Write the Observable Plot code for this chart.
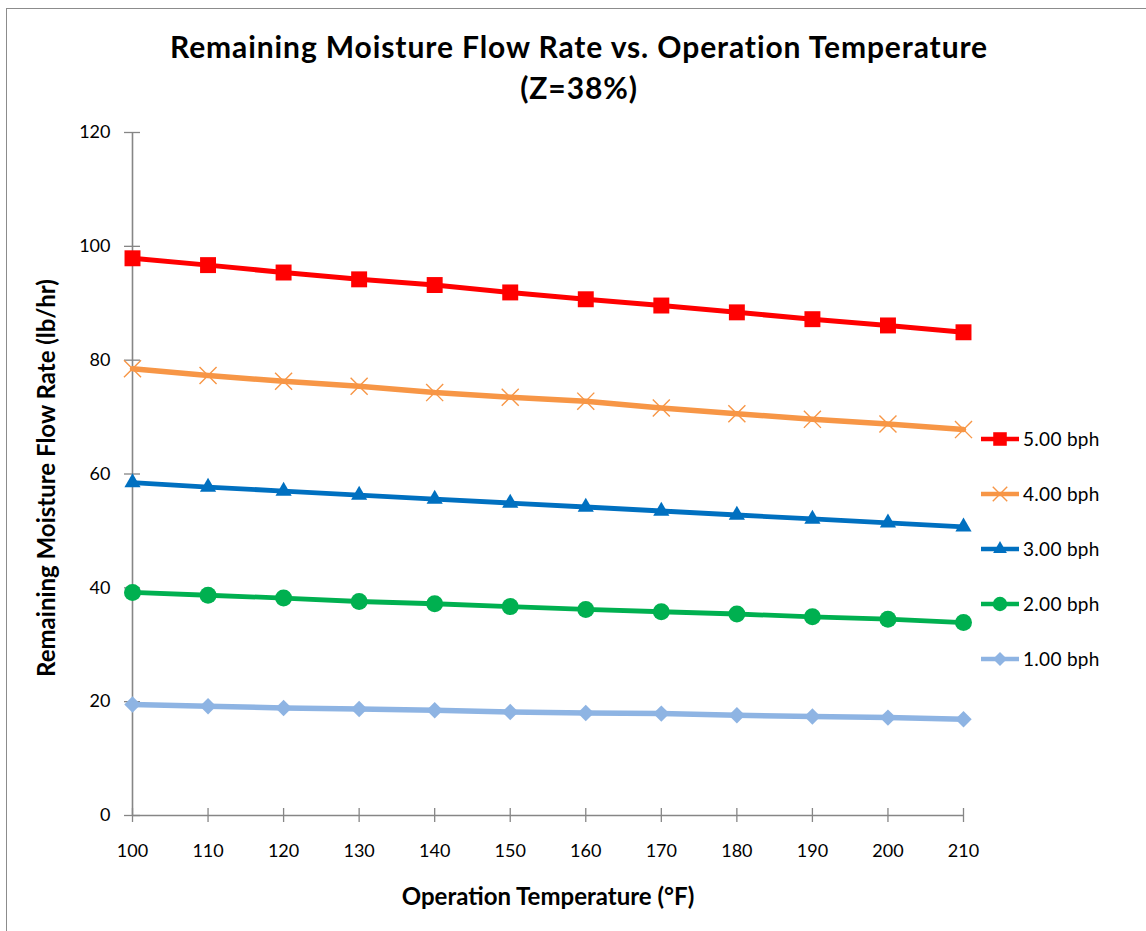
<!DOCTYPE html>
<html>
<head>
<meta charset="utf-8">
<script src="https://cdn.jsdelivr.net/npm/d3@7"></script>
<script src="https://cdn.jsdelivr.net/npm/@observablehq/plot@0.6"></script>
<style>
  html, body { margin: 0; padding: 0; background: #fff; }
  body { width: 1146px; height: 931px; position: relative; overflow: hidden; font-family: Lato, "Open Sans", sans-serif; }
  #title { height: 112px; box-sizing: border-box; padding-top: 26px; padding-left: 12px; text-align: center;
           font-size: 30px; letter-spacing: 0.9px; font-weight: bold; line-height: 41px; color: #000; }
  #frame { position: absolute; left: 6px; top: 8px; width: 1200px; height: 1000px;
           border-left: 1.5px solid #8c8c8c; border-top: 1.5px solid #8c8c8c; pointer-events: none; }
  #legend { position: absolute; left: 975px; top: 420px; }
  #chart svg text.axis-title { letter-spacing: 0.4px; }
</style>
</head>
<body>
<div id="title">Remaining Moisture Flow Rate vs. Operation Temperature<br>(Z=38%)</div>
<div id="chart"></div>
<div id="legend"></div>
<div id="frame"></div>
<script>
// Operation temperature (°F)
const temps = [100, 110, 120, 130, 140, 150, 160, 170, 180, 190, 200, 210];

// Remaining moisture flow rate (lb/hr) for each feed rate
const bph5 = [97.9, 96.7, 95.4, 94.2, 93.2, 91.9, 90.7, 89.6, 88.4, 87.2, 86.1, 84.9];
const bph4 = [78.5, 77.3, 76.3, 75.4, 74.3, 73.5, 72.8, 71.6, 70.6, 69.6, 68.8, 67.8];
const bph3 = [58.5, 57.7, 57.0, 56.3, 55.6, 54.9, 54.2, 53.5, 52.8, 52.1, 51.4, 50.7];
const bph2 = [39.2, 38.7, 38.2, 37.6, 37.2, 36.7, 36.2, 35.8, 35.4, 34.9, 34.5, 33.9];
const bph1 = [19.5, 19.2, 18.9, 18.7, 18.5, 18.2, 18.0, 17.9, 17.6, 17.4, 17.2, 16.9];

const seriesNames = ["5.00 bph", "4.00 bph", "3.00 bph", "2.00 bph", "1.00 bph"];
const seriesValues = [bph5, bph4, bph3, bph2, bph1];
const seriesColors = ["#ff0000", "#f79646", "#0070c0", "#00b050", "#8eb4e3"];
const seriesSymbols = ["square", "times", "triangle", "circle", "diamond2"];
const seriesMarkerR = [9, 7.8, 6, 8.5, 7.4];
const seriesLineWidth = [5, 5.5, 4.8, 4.8, 5.5];

const xTicks = [100, 110, 120, 130, 140, 150, 160, 170, 180, 190, 200, 210];
const yTicks = [0, 20, 40, 60, 80, 100, 120];

const axisGray = "#868686";

// tidy rows: one per (series, temperature)
const rows = seriesNames.flatMap((name, i) =>
  temps.map((t, j) => ({series: name, index: i, temp: t, flow: seriesValues[i][j]}))
);

const seriesMarks = seriesNames.flatMap((name, i) => {
  const d = rows.filter(r => r.index === i);
  const isStrokeSymbol = seriesSymbols[i] === "times";
  return [
    Plot.line(d, {x: "temp", y: "flow", stroke: seriesColors[i], strokeWidth: seriesLineWidth[i]}),
    Plot.dot(d, {
      x: "temp", y: "flow", symbol: () => seriesSymbols[i], r: seriesMarkerR[i],
      fill: isStrokeSymbol ? "none" : seriesColors[i],
      stroke: isStrokeSymbol ? seriesColors[i] : "none",
      strokeWidth: isStrokeSymbol ? 1.4 : 0
    })
  ];
});

const chart = Plot.plot({
  width: 1146,
  height: 819,
  marginTop: 20,
  marginBottom: 116,
  marginLeft: 132,
  marginRight: 183,
  style: {fontFamily: "Lato, 'Open Sans', sans-serif", color: "#000", background: "transparent", overflow: "visible"},
  x: {domain: [100, 210]},
  y: {domain: [0, 120]},
  symbol: {type: "identity"},
  marks: [
    // axes with ticks crossing the axis line
    Plot.axisY({ticks: yTicks, tickSize: 16, dx: 8, tickPadding: 14, stroke: axisGray, fill: "#000",
                fontSize: 18, label: null, strokeWidth: 1.3}),
    Plot.axisX({ticks: xTicks, tickSize: 14, dy: -7, tickPadding: 22, stroke: axisGray, fill: "#000",
                fontSize: 18, label: null, tickFormat: d => String(d), strokeWidth: 1.3}),
    Plot.ruleX([100], {stroke: axisGray, strokeWidth: 1.6}),
    Plot.ruleY([0], {stroke: axisGray, strokeWidth: 1.6}),
    // axis titles
    Plot.text(["Operation Temperature (°F)"], {frameAnchor: "bottom", dy: 82, fontSize: 24, fontWeight: "bold",
                                               fill: "#000", lineAnchor: "middle", className: "axis-title"}),
    Plot.text(["Remaining Moisture Flow Rate (lb/hr)"], {frameAnchor: "left", dx: -85, dy: 4, rotate: -90,
                                                         textAnchor: "middle", fontSize: 24, fontWeight: "bold",
                                                         fill: "#000", lineAnchor: "middle", className: "axis-title"}),
    ...seriesMarks
  ]
});
document.getElementById("chart").appendChild(chart);

// legend: line sample with marker, then label
const legend = d3.select("#legend").append("svg").attr("width", 160).attr("height", 260)
  .style("overflow", "visible");
const legendSymbols = {
  square: d3.symbolSquare, times: d3.symbolTimes, triangle: d3.symbolTriangle,
  circle: d3.symbolCircle, diamond2: d3.symbolDiamond2
};
seriesNames.forEach((name, i) => {
  const g = legend.append("g").attr("transform", `translate(0,${19 + 55 * i})`);
  g.append("line").attr("x1", 6).attr("x2", 44).attr("y1", 0).attr("y2", 0)
    .attr("stroke", seriesColors[i]).attr("stroke-width", 4.5);
  const isStrokeSymbol = seriesSymbols[i] === "times";
  const size = Math.PI * Math.pow(seriesMarkerR[i] * 0.85, 2);
  g.append("path").attr("transform", "translate(25,0)")
    .attr("d", d3.symbol(legendSymbols[seriesSymbols[i]], size)())
    .attr("fill", isStrokeSymbol ? "none" : seriesColors[i])
    .attr("stroke", isStrokeSymbol ? seriesColors[i] : "none")
    .attr("stroke-width", isStrokeSymbol ? 1.4 : 0);
  g.append("text").attr("x", 48).attr("y", 0).attr("dy", "0.35em")
    .attr("font-size", 19).attr("letter-spacing", "0.3px")
    .attr("font-family", "Lato, 'Open Sans', sans-serif").attr("fill", "#000")
    .text(name);
});
</script>
</body>
</html>
